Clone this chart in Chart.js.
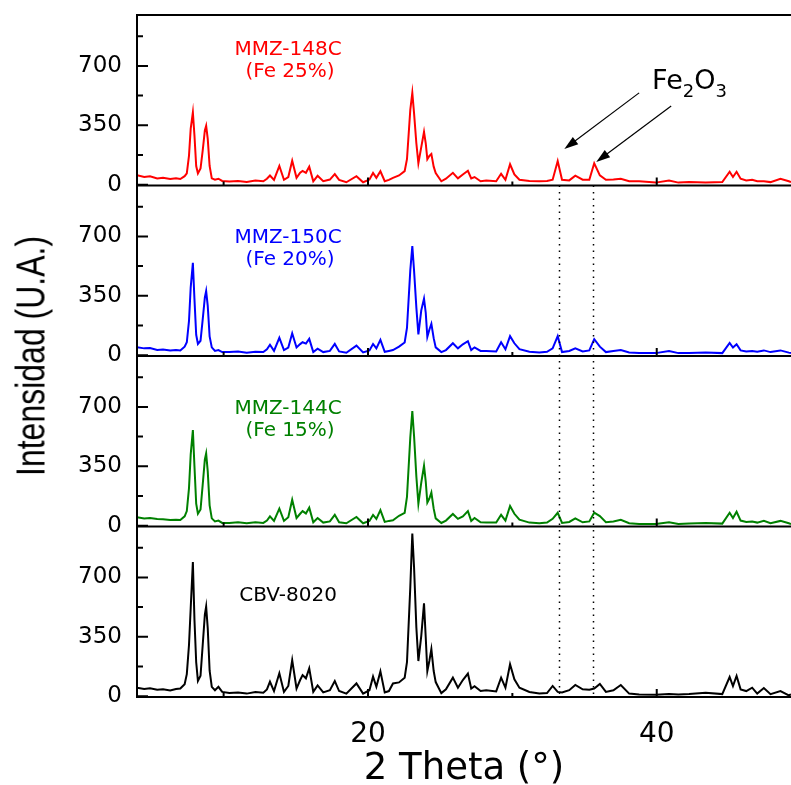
<!DOCTYPE html>
<html>
<head>
<meta charset="utf-8">
<title>DRX - zeolitas con Fe</title>
<script src="https://cdn.jsdelivr.net/npm/chart.js@4/dist/chart.umd.min.js"></script>
<style>
  html, body { margin: 0; padding: 0; background: #fff; }
  #wrap { position: relative; width: 791px; height: 785px; }
  #xrdChart { display: block; }
  /* y title is real text, squeezed a bit like the original export */
  #yTitle {
    position: absolute; left: 31px; top: 356px;
    font-family: "Liberation Sans", Arial, sans-serif; font-size: 40px; color: #000;
    white-space: nowrap;
    transform: translate(-50%, -50%) rotate(-90deg) scaleX(0.8);
  }
</style>
</head>
<body>
<div id="wrap">
  <canvas id="xrdChart" width="791" height="785"></canvas>
  <div id="yTitle">Intensidad (U.A.)</div>
</div>
<script>
// 2 theta positions (deg) shared by the four patterns
const twoTheta = [4.0, 4.5, 4.9, 5.4, 5.8, 6.3, 6.7,
  7.0, 7.3, 7.45, 7.6, 7.72, 7.87, 7.98, 8.1, 8.22, 8.4, 8.55, 8.7, 8.79, 8.9, 9.03, 9.18, 9.4,
  9.64, 9.9, 10.4, 11.0, 11.6, 12.2, 12.75, 13.0, 13.21, 13.49,
  13.86, 14.18, 14.48, 14.75, 15.05, 15.3, 15.47, 15.7, 15.93, 16.21,
  16.51, 16.9, 17.36, 17.7, 18.0, 18.5, 19.2, 19.66, 20.1, 20.35,
  20.58, 20.86, 21.16, 21.45, 21.73, 22.15,
  22.54, 22.7, 22.93, 23.07, 23.19, 23.35, 23.49, 23.69, 23.88, 24.0, 24.11, 24.25, 24.39, 24.55, 24.69,
  25.08, 25.4, 25.88, 26.23,
  26.57, 26.92, 27.15, 27.38, 27.8, 28.19, 28.88, 29.22, 29.52, 29.84,
  30.14, 30.49, 31.18, 31.87, 32.4, 32.79, 33.14, 33.44, 33.94, 34.36,
  34.87, 35.33, 35.67, 36.06, 36.48, 37.0, 37.51, 38.09, 38.78, 39.93,
  40.85, 41.5, 42.24, 43.39, 44.54, 45.05, 45.28, 45.53, 45.81, 46.2,
  46.61, 46.96, 47.42, 47.88, 48.57, 49.15, 49.3];

// intensities (U.A.)
const mmz148c = [56, 45, 50, 37, 40, 33, 38,
  33, 50, 67, 170, 330, 426, 290, 110, 66, 95, 200, 320, 347, 270, 110, 37, 29,
  35, 22, 18, 22, 16, 24, 20, 35, 54, 28,
  110, 29, 45, 141, 40, 70, 81, 70, 106, 20,
  52, 20, 30, 62, 28, 14, 50, 14, 30, 69,
  40, 79, 20, 28, 40, 54,
  80, 150, 441, 541, 422, 244, 126, 221, 311, 244, 150, 169, 181, 106, 69,
  20, 35, 70, 37,
  60, 82, 37, 45, 20, 25, 20, 64, 29, 120,
  60, 29, 22, 20, 22, 29, 139, 29, 25, 53,
  29, 29, 126, 55, 29, 30, 35, 20, 20, 12,
  25, 12, 15, 12, 15, 76, 45, 76, 35, 25,
  29, 20, 20, 15, 35, 20, 15];

const mmz150c = [46, 40, 42, 31, 33, 27, 30,
  27, 50, 76, 200, 400, 544, 330, 120, 66, 85, 210, 340, 378, 290, 110, 46, 25,
  30, 18, 18, 22, 14, 20, 18, 35, 61, 25,
  102, 30, 45, 129, 45, 65, 76, 68, 96, 18,
  38, 18, 25, 66, 22, 14, 56, 16, 28, 66,
  40, 90, 20, 25, 30, 50,
  75, 160, 500, 643, 500, 280, 122, 264, 333, 250, 108, 150, 185, 100, 46,
  18, 30, 70, 40,
  64, 82, 30, 46, 25, 25, 22, 76, 35, 112,
  70, 35, 20, 16, 20, 40, 112, 18, 25, 40,
  22, 28, 94, 50, 18, 25, 30, 16, 12, 12,
  25, 12, 12, 15, 12, 72, 45, 64, 28, 22,
  25, 20, 28, 18, 28, 15, 12];

const mmz144c = [50, 42, 45, 39, 38, 33, 35,
  33, 55, 86, 220, 420, 564, 350, 130, 70, 95, 240, 390, 426, 320, 120, 43, 25,
  30, 16, 16, 20, 14, 20, 16, 30, 55, 28,
  100, 28, 50, 153, 45, 70, 86, 72, 106, 20,
  45, 18, 25, 64, 20, 14, 51, 14, 28, 63,
  40, 92, 22, 28, 32, 58,
  75, 170, 520, 675, 530, 290, 129, 254, 353, 260, 136, 160, 195, 100, 43,
  16, 30, 69, 40,
  55, 86, 28, 45, 20, 18, 18, 64, 30, 116,
  70, 35, 18, 14, 18, 40, 76, 16, 22, 43,
  20, 25, 76, 56, 20, 25, 35, 14, 10, 10,
  20, 10, 12, 15, 12, 76, 45, 82, 30, 22,
  25, 18, 28, 15, 28, 14, 10];

const cbv8020 = [49, 42, 47, 38, 40, 33, 42,
  45, 70, 130, 300, 520, 790, 450, 200, 90, 120, 300, 480, 528, 400, 150, 55, 35,
  55, 25, 18, 22, 15, 25, 20, 40, 85, 30,
  135, 25, 60, 212, 45, 95, 124, 105, 164, 25,
  63, 22, 35, 89, 30, 15, 75, 15, 35, 115,
  55, 146, 22, 30, 75, 81,
  109, 200, 642, 959, 761, 405, 207, 355, 547, 346, 148, 207, 277, 148, 83,
  18, 40, 109, 50,
  95, 133, 45, 59, 30, 35, 28, 109, 50, 188,
  99, 50, 25, 15, 18, 60, 25, 22, 35, 66,
  40, 38, 45, 72, 25, 35, 66, 15, 10, 8,
  12, 10, 12, 20, 12, 113, 60, 119, 40, 30,
  50, 15, 48, 12, 30, 5, 10];

const sampleNames = ["MMZ-148C", "MMZ-150C", "MMZ-144C", "CBV-8020"];
const ironContent = ["(Fe 25%)", "(Fe 20%)", "(Fe 15%)", ""];
const yTickLabels = [0, 350, 700];
const xTickLabels = [20, 40];
const fe2o3Peaks = [33.2, 35.6];   // hematite reflections marked with dotted lines

(() => {
  if (!window.Chart) return;

  // one panel per sample, top to bottom
  const panels = [
    { id: "yRed",   color: "#ff0000", values: mmz148c, labelY: [795, 665] },
    { id: "yBlue",  color: "#0000ff", values: mmz150c, labelY: [692, 561] },
    { id: "yGreen", color: "#008000", values: mmz144c, labelY: [689, 559] },
    { id: "yBlack", color: "#000000", values: cbv8020, labelY: [592] }
  ];
  const labelX = 14.46;                  // 2theta where the sample names sit
  // arrows of the Fe2O3 note, in (2theta, intensity) of the top panel
  const arrows = [
    { from: [38.78, 541], to: [33.6, 210] },
    { from: [41.0, 464], to: [35.81, 133] }
  ];
  const noteAt = [39.68, 565];

  const tickFont = "DejaVu Sans";

  function panelScale(weight) {
    return {
      type: "linear",
      position: "left",
      stack: "panels",
      stackWeight: 1,
      weight: weight,
      min: -5,
      max: 1000,
      border: { display: false },
      grid: { display: false, drawTicks: false },
      ticks: {
        stepSize: 175,
        includeBounds: false,
        autoSkip: false,
        padding: 15,
        color: "#000",
        font: { family: tickFont, size: 23 },
        callback: (v) => (yTickLabels.includes(v) ? String(v) : "")
      },
      // fixed axis width, and no extra room for half labels at the ends
      afterFit: (s) => { s.width = 137; s.paddingTop = 0; s.paddingBottom = 0; }
    };
  }

  function drawArrow(ctx, x0, y0, x1, y1) {
    const a = Math.atan2(y1 - y0, x1 - x0);
    const c = Math.cos(a), s = Math.sin(a);
    ctx.beginPath();
    ctx.moveTo(x0, y0);
    ctx.lineTo(x1 - 10 * c, y1 - 10 * s);
    ctx.stroke();
    ctx.beginPath();
    ctx.moveTo(x1, y1);
    ctx.lineTo(x1 - 14 * c + 4.5 * s, y1 - 14 * s - 4.5 * c);
    ctx.lineTo(x1 - 14 * c - 4.5 * s, y1 - 14 * s + 4.5 * c);
    ctx.closePath();
    ctx.fill();
  }

  // frame, inward ticks, dotted Fe2O3 markers and panel texts
  const panelFrame = {
    id: "panelFrame",
    afterDatasetsDraw(chart) {
      const { ctx, chartArea, scales } = chart;
      const xs = scales.x;
      ctx.save();
      ctx.strokeStyle = "#000";
      ctx.fillStyle = "#000";
      ctx.lineWidth = 2;

      ctx.beginPath();
      ctx.moveTo(chartArea.left - 1, chartArea.top);
      ctx.lineTo(chartArea.right, chartArea.top);
      ctx.moveTo(chartArea.left, chartArea.top);
      ctx.lineTo(chartArea.left, chartArea.bottom + 1);
      ctx.stroke();

      panels.forEach((p) => {
        const ys = scales[p.id];
        ctx.beginPath();
        ctx.moveTo(chartArea.left, ys.bottom);
        ctx.lineTo(chartArea.right, ys.bottom);
        ys.ticks.forEach((t) => {
          const py = ys.getPixelForValue(t.value);
          ctx.moveTo(chartArea.left, py);
          ctx.lineTo(chartArea.left + (t.label !== "" ? 11 : 6), py);
        });
        xs.ticks.forEach((t) => {
          const px = xs.getPixelForValue(t.value);
          ctx.moveTo(px, ys.bottom);
          ctx.lineTo(px, ys.bottom - (t.label !== "" ? 8 : 4));
        });
        ctx.stroke();
      });

      // dotted guides through the lower three panels
      ctx.save();
      ctx.lineWidth = 1.5;
      ctx.setLineDash([1.5, 5]);
      ctx.beginPath();
      fe2o3Peaks.forEach((v) => {
        const px = Math.round(xs.getPixelForValue(v)) + 0.5;
        ctx.moveTo(px, scales.yRed.bottom);
        ctx.lineTo(px, chartArea.bottom);
      });
      ctx.stroke();
      ctx.restore();

      // sample names
      ctx.textAlign = "center";
      ctx.textBaseline = "middle";
      ctx.font = "20px 'DejaVu Sans'";
      panels.forEach((p, i) => {
        const ys = scales[p.id];
        ctx.fillStyle = p.color;
        const px = xs.getPixelForValue(labelX);
        ctx.fillText(sampleNames[i], px, ys.getPixelForValue(p.labelY[0]));
        if (ironContent[i]) ctx.fillText(ironContent[i], px + 2, ys.getPixelForValue(p.labelY[1]));
      });

      // Fe2O3 note with arrows on the top panel
      const top = scales.yRed;
      ctx.fillStyle = "#000";
      ctx.strokeStyle = "#000";
      ctx.lineWidth = 1.2;
      arrows.forEach((a) => {
        drawArrow(ctx,
          xs.getPixelForValue(a.from[0]), top.getPixelForValue(a.from[1]),
          xs.getPixelForValue(a.to[0]), top.getPixelForValue(a.to[1]));
      });
      ctx.textAlign = "left";
      ctx.textBaseline = "alphabetic";
      let nx = xs.getPixelForValue(noteAt[0]);
      const ny = top.getPixelForValue(noteAt[1]);
      [["Fe", 0], ["2", 1], ["O", 0], ["3", 1]].forEach(([txt, sub]) => {
        ctx.font = sub ? "18px 'DejaVu Sans'" : "27px 'DejaVu Sans'";
        ctx.fillText(txt, nx, sub ? ny + 8 : ny);
        nx += ctx.measureText(txt).width;
      });
      ctx.restore();
    }
  };

  const scales = {
    x: {
      type: "linear",
      position: "bottom",
      min: 4,
      max: 49.3,
      border: { display: false },
      grid: { display: false, drawTicks: false },
      ticks: {
        stepSize: 10,
        includeBounds: false,
        autoSkip: false,
        maxRotation: 0,
        padding: 21,
        color: "#000",
        font: { family: tickFont, size: 28 },
        callback: (v) => (xTickLabels.includes(v) ? String(v) : "")
      },
      title: {
        display: true,
        text: "2 Theta (°)",
        color: "#000",
        font: { family: tickFont, size: 37, lineHeight: 0.85 },
        padding: 0
      },
      afterFit: (s) => { s.height = 88; s.paddingLeft = 0; s.paddingRight = 0; }
    }
  };
  // higher weight sits higher in the left stack
  panels.forEach((p, i) => { scales[p.id] = panelScale(panels.length - i); });

  new Chart(document.getElementById("xrdChart").getContext("2d"), {
    type: "line",
    data: {
      datasets: panels.map((p, i) => ({
        label: sampleNames[i],
        data: twoTheta.map((x, k) => ({ x: x, y: p.values[k] })),
        yAxisID: p.id,
        borderColor: p.color,
        borderWidth: 2,
        pointRadius: 0,
        tension: 0,
        fill: false
      }))
    },
    options: {
      responsive: false,
      animation: false,
      layout: { padding: { top: 15, right: 0, bottom: 0, left: 0 } },
      plugins: {
        legend: { display: false },
        tooltip: { enabled: false }
      },
      scales: scales
    },
    plugins: [panelFrame]
  });
})();
</script>
</body>
</html>
